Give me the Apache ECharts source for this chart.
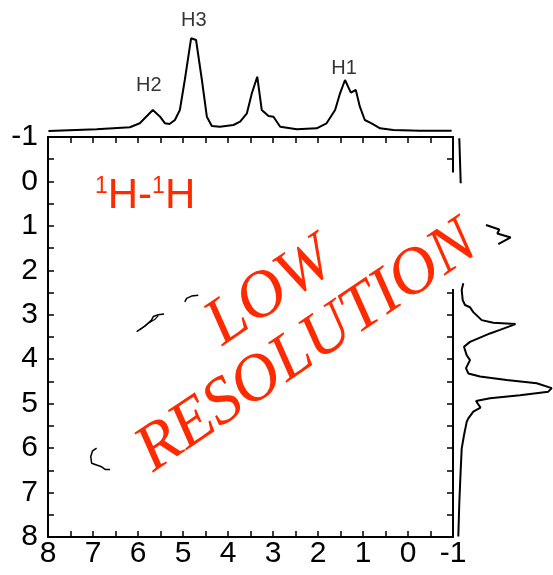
<!DOCTYPE html>
<html>
<head>
<meta charset="utf-8">
<script src="https://cdn.jsdelivr.net/npm/echarts@6/dist/echarts.min.js"></script>
<style>
html,body{margin:0;padding:0;background:#fff;}
#c{width:553px;height:575px;}
</style>
</head>
<body>
<div id="c"></div>
<script>
// ---- data ----
const axisTicks = [-1, 0, 1, 2, 3, 4, 5, 6, 7, 8];

// top (F2) projection: chemical shift (ppm) and intensity
const topPpm = [7.99, 6.92, 6.18, 5.96, 5.67, 5.51, 5.40, 5.30, 5.18, 5.07, 4.96, 4.82, 4.71, 4.58, 4.47, 4.36, 4.18, 3.88, 3.73, 3.58, 3.47, 3.35, 3.25, 3.10, 2.99, 2.84, 2.47, 2.03, 1.81, 1.62, 1.51, 1.40, 1.27, 1.16, 1.07, 0.96, 0.81, 0.62, 0.33, -0.27, -0.97];
const topInt = [5, 6.7, 8.7, 12.7, 26, 19.3, 12.7, 12, 16, 26, 56, 97.7, 96, 56, 19.3, 10, 9.3, 11, 14.3, 22.7, 42.7, 59.3, 26, 20, 19.3, 9.3, 6.7, 7.7, 12.7, 26, 42.7, 56, 43.3, 46, 29.3, 16, 12.7, 7.7, 6, 5.3, 5.3];

// peak labels on the top projection
const peakNames = ['H2', 'H3', 'H1'];
const peakLabelPpm = [5.76, 4.76, 1.42];
const peakLabelInt = [51, 116, 68];

// right (F1) projection, visible pieces
const rightPpmA = [-0.97, -0.48, 0.04];
const rightIntA = [6.3, 7, 7.7];
const rightPpmB = [0.98, 1.08, 1.17, 1.26, 1.41];
const rightIntB = [33, 46.3, 44.3, 57.7, 45.3];
const rightPpmC = [2.29, 2.44, 2.67, 2.78, 2.83, 2.94, 3.12, 3.18, 3.21, 3.34, 3.42, 3.61, 3.72, 3.91, 4.02, 4.20, 4.32, 4.39, 4.47, 4.54, 4.65, 4.73, 4.81, 4.88, 4.94, 5.09, 5.18, 5.33, 5.41, 5.71, 6.01, 6.49, 7.24, 7.99];
const rightIntC = [10.3, 8.7, 9.7, 12, 17, 20.3, 28.7, 40.3, 62.5, 47, 37, 17, 11, 13.7, 17, 13, 15.3, 27, 53.7, 83.7, 98.7, 95.3, 67, 37, 23, 27.5, 20.3, 15.3, 13.7, 11, 8.7, 7.7, 6.3, 5.3];

// visible contour fragments (F2 ppm, F1 ppm)
const contourAx = [6.03, 5.84, 5.70, 5.66, 5.55, 5.42];
const contourAy = [3.38, 3.25, 3.12, 3.04, 3.00, 2.98];
const contourA2x = [5.96, 5.77, 5.62, 5.55];
const contourA2y = [3.34, 3.19, 3.10, 3.02];
const contourBx = [4.96, 4.92, 4.81, 4.66];
const contourBy = [2.71, 2.63, 2.58, 2.56];
const contourCx = [6.92, 7.01, 7.05, 7.03, 6.92, 6.81, 6.73, 6.62];
const contourCy = [6.00, 6.06, 6.19, 6.34, 6.38, 6.42, 6.48, 6.48];

// region of the right frame hidden by the watermark (F1 ppm)
const maskFrom = -0.2, maskTo = 2.42;

// ---- chart ----
const zip = (a, b) => a.map((v, i) => [v, b[i]]);
const RED = '#ff2a00';
const FONT = 'Liberation Sans, Arial, sans-serif';

const chart = echarts.init(document.getElementById('c'), null, {renderer: 'canvas'});

const frameAxis = (extra) => Object.assign({
  type: 'value', min: -1, max: 8, interval: 1, inverse: true,
  axisLine: {show: true, onZero: false, lineStyle: {color: '#000', width: 2}},
  axisTick: {show: true, inside: true, length: 6, lineStyle: {color: '#000', width: 1.5}},
  minorTick: {show: true, splitNumber: 2, length: 6, lineStyle: {color: '#000', width: 1.5}},
  splitLine: {show: false}, minorSplitLine: {show: false},
  axisLabel: {show: false}
}, extra);

const hiddenAxis = (extra) => Object.assign({
  type: 'value', show: false, splitLine: {show: false}
}, extra);

const lineSeries = (xi, yi, data, width) => ({
  type: 'line', xAxisIndex: xi, yAxisIndex: yi, data: data,
  symbol: 'none', smooth: false, silent: true, animation: false,
  lineStyle: {color: '#000', width: width}
});

chart.setOption({
  animation: false,
  backgroundColor: '#fff',
  grid: [
    {left: 48, top: 137, width: 405, height: 400},
    {left: 48, top: 16, width: 405, height: 120},
    {left: 453, top: 137, width: 100, height: 400}
  ],
  xAxis: [
    frameAxis({gridIndex: 0, position: 'bottom',
      axisLabel: {show: true, fontSize: 30, color: '#000', fontFamily: FONT, margin: 2,
        formatter: v => axisTicks.includes(v) ? String(v) : ''}}),
    frameAxis({gridIndex: 0, position: 'top'}),
    hiddenAxis({gridIndex: 1, min: -1, max: 8, inverse: true}),
    hiddenAxis({gridIndex: 2, min: 0, max: 100})
  ],
  yAxis: [
    frameAxis({gridIndex: 0, position: 'left',
      axisLabel: {show: true, fontSize: 30, color: '#000', fontFamily: FONT, margin: 10,
        formatter: v => axisTicks.includes(v) ? String(v) : ''}}),
    frameAxis({gridIndex: 0, position: 'right'}),
    hiddenAxis({gridIndex: 1, min: 0, max: 120}),
    hiddenAxis({gridIndex: 2, min: -1, max: 8, inverse: true})
  ],
  series: [
    lineSeries(2, 2, zip(topPpm, topInt), 2),
    {
      type: 'scatter', xAxisIndex: 2, yAxisIndex: 2, symbolSize: 0, silent: true,
      data: peakNames.map((n, i) => ({name: n, value: [peakLabelPpm[i], peakLabelInt[i]]})),
      label: {show: true, position: 'inside', formatter: p => p.name,
        fontSize: 20, color: '#000', fontFamily: FONT}
    },
    lineSeries(3, 3, zip(rightIntA, rightPpmA), 2),
    lineSeries(3, 3, zip(rightIntB, rightPpmB), 2),
    lineSeries(3, 3, zip(rightIntC, rightPpmC), 2),
    lineSeries(0, 0, zip(contourAx, contourAy), 1.5),
    lineSeries(0, 0, zip(contourA2x, contourA2y), 1.2),
    lineSeries(0, 0, zip(contourBx, contourBy), 1.5),
    lineSeries(0, 0, zip(contourCx, contourCy), 1.5)
  ]
});

// watermark-style overlays
const pTop = chart.convertToPixel({xAxisIndex: 0, yAxisIndex: 0}, [-1, maskFrom]);
const pBot = chart.convertToPixel({xAxisIndex: 0, yAxisIndex: 0}, [-1, maskTo]);
chart.setOption({
  graphic: [
    {type: 'rect', z: 100, shape: {x: pTop[0] - 8, y: pTop[1], width: 12, height: pBot[1] - pTop[1]},
      style: {fill: '#fff'}},
    {type: 'text', z: 101, left: 95, top: 175,
      style: {
        text: '{s|1}{n|H-}{s|1}{n|H}',
        rich: {
          s: {fontSize: 23, fontFamily: FONT, fill: RED, verticalAlign: 'top', lineHeight: 42},
          n: {fontSize: 42, fontFamily: FONT, fill: RED, lineHeight: 42}
        }
      }},
    {type: 'text', z: 101, x: 289, y: 320, rotation: 34 * Math.PI / 180,
      style: {
        text: 'LOW\nRESOLUTION', fill: RED, fontSize: 66, fontStyle: 'italic',
        fontFamily: 'Liberation Serif, DejaVu Serif, serif', align: 'center',
        verticalAlign: 'middle', lineHeight: 66
      }}
  ]
});
</script>
</body>
</html>
